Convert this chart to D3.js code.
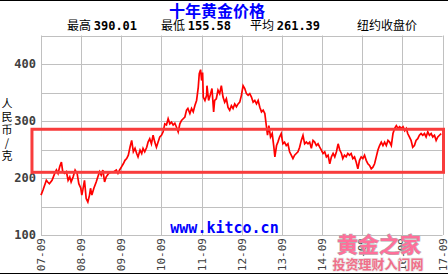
<!DOCTYPE html>
<html>
<head>
<meta charset="utf-8">
<script src="https://cdn.jsdelivr.net/npm/d3@7"></script>
<style>
  body { margin: 0; background: #fff; }
  svg { display: block; }
</style>
</head>
<body>
<div id="chart"></div>
<script>
// months since 2007-09, gold price (CNY per gram)
const months = [
  0, 0.6, 1.6, 2.0, 2.5, 3.3, 4.1, 4.6, 5.1, 5.6, 6.1, 6.5, 7.1, 7.6, 8.1, 8.6, 9.0, 9.6, 10.2, 10.8,
  11.3, 11.9, 12.2, 12.5, 13.0, 13.5, 14.0, 14.5, 14.8, 15.2, 15.8, 16.5, 17.0, 17.5, 18.0, 18.5, 19.0, 19.5, 20.2, 21.0,
  21.8, 22.5, 23.0, 23.5, 24.1, 24.6, 25.1, 25.6, 26.1, 26.6, 27.1, 27.6, 28.1, 28.6, 29.0, 29.6, 30.1, 30.5, 31.0, 31.6,
  32.0, 32.5, 33.0, 33.5, 34.0, 34.5, 35.0, 35.5, 36.0, 36.5, 37.0, 37.5, 38.0, 38.5, 39.0, 39.5, 40.0, 40.5, 41.0, 41.5,
  42.0, 42.5, 43.0, 43.5, 43.9, 44.5, 45.0, 45.5, 46.0, 46.5, 47.0, 47.3, 47.7, 48.0, 48.3, 48.5, 49.0, 49.5, 49.6, 50.1,
  50.7, 51.1, 51.6, 51.9, 52.4, 52.9, 53.4, 53.9, 54.4, 54.9, 55.4, 55.9, 56.4, 56.9, 57.4, 57.9, 58.4, 58.9, 59.4, 59.9,
  60.4, 60.9, 61.4, 61.9, 62.4, 62.9, 63.4, 63.9, 64.4, 64.9, 65.4, 65.9, 66.4, 66.9, 67.4, 67.7, 68.1, 68.6, 69.1, 69.6,
  69.9, 70.4, 70.8, 71.3, 71.8, 72.3, 72.8, 73.3, 73.8, 74.3, 74.8, 75.3, 75.8, 76.3, 76.8, 77.3, 77.8, 78.3, 78.8, 79.3,
  79.8, 80.3, 80.8, 81.3, 81.8, 82.3, 82.8, 83.3, 83.8, 84.3, 84.8, 85.3, 85.8, 86.3, 86.8, 87.3, 87.8, 88.3, 88.8, 89.3,
  89.8, 90.2, 90.7, 91.2, 91.7, 92.2, 92.7, 93.2, 93.7, 94.2, 94.7, 95.2, 95.7, 96.2, 96.7, 97.2, 97.7, 98.2, 98.7, 99.2,
  99.7, 100.2, 100.7, 101.2, 101.7, 102.2, 102.7, 103.2, 103.7, 104.2, 104.7, 105.2, 105.7, 106.2, 106.7, 107.2, 107.7, 108.2, 108.7, 109.2,
  109.6, 110.1, 110.6, 111.1, 111.6, 112.1, 112.6, 113.1, 113.6, 114.1, 114.6, 115.1, 115.6, 116.1, 116.6, 117.1, 117.6, 118.1, 118.6, 119.1,
  119.6
]
const prices = [
  170, 179, 196, 193, 190, 196, 208, 214, 208, 220, 228, 211, 208, 211, 196, 202, 193, 202, 214, 208,
  190, 182, 170, 179, 196, 164, 158, 170, 182, 170, 182, 193, 202, 211, 205, 214, 193, 202, 208, 211,
  211, 214, 208, 214, 220, 225, 231, 234, 240, 254, 266, 246, 252, 243, 237, 249, 243, 252, 246, 254,
  263, 269, 260, 275, 263, 254, 263, 272, 275, 281, 295, 293, 304, 295, 298, 293, 296, 289, 281, 295,
  301, 304, 307, 319, 322, 313, 322, 316, 327, 336, 359, 383, 390, 371, 385, 342, 336, 345, 362, 336,
  348, 357, 316, 336, 339, 354, 348, 362, 342, 333, 339, 324, 319, 327, 322, 330, 325, 330, 333, 345,
  362, 357, 348, 345, 348, 342, 333, 336, 330, 336, 324, 316, 319, 313, 289, 275, 292, 272, 278, 254,
  237, 257, 263, 272, 278, 260, 263, 257, 260, 246, 240, 234, 240, 243, 246, 254, 266, 275, 260, 263,
  260, 263, 252, 266, 263, 257, 260, 254, 249, 243, 246, 237, 240, 225, 237, 243, 237, 246, 260, 249,
  243, 234, 240, 237, 243, 240, 243, 234, 237, 228, 216, 231, 237, 234, 240, 231, 225, 222, 216, 219,
  225, 237, 249, 257, 263, 257, 263, 257, 266, 263, 257, 278, 287, 292, 287, 290, 287, 290, 283, 287,
  278, 272, 266, 254, 257, 266, 269, 275, 278, 275, 278, 272, 281, 275, 278, 272, 275, 266, 272, 275,
  278
]
const xTickMonths = [0, 12, 24, 36, 48, 60, 72, 84, 96, 108, 120]
const xTickLabels = ["07-09", "08-09", "09-09", "10-09", "11-09", "12-09", "13-09", "14-09", "15-09", "16-09", "17-09"]
const yTicks = [100, 200, 300, 400]
const yGrid = [100, 150, 200, 250, 300, 350, 400, 450]
const stats = [
  { label: "最高", value: "390.01" },
  { label: "最低", value: "155.58" },
  { label: "平均", value: "261.39" }
]
// highlighted price band (annotation box)
const bandPrices = [210, 285.5]
const bandMonths = [-2.7, 120.3]

const W = 448, H = 275
const MARGIN = { TOP: 35.5, BOTTOM: 40, LEFT: 41, RIGHT: 5 }
const MONO = "'DejaVu Sans Mono', 'Liberation Mono', monospace"
const CJK = "'Noto Sans CJK SC', sans-serif"

const svg = d3.select("#chart").append("svg")
  .attr("width", W)
  .attr("height", H)

const x = d3.scaleLinear()
  .domain([0, 120])
  .range([MARGIN.LEFT, W - MARGIN.RIGHT - 0.5])

const y = d3.scaleLinear()
  .domain([100, 450])
  .range([H - MARGIN.BOTTOM, MARGIN.TOP])

// frame lines top and bottom
svg.append("line").attr("x1", 0).attr("x2", W).attr("y1", 0.5).attr("y2", 0.5)
  .attr("stroke", "#000")
svg.append("line").attr("x1", 0).attr("x2", W).attr("y1", 273.5).attr("y2", 273.5)
  .attr("stroke", "#000")

// grid
const grid = svg.append("g").attr("stroke", "#c0c0c0").attr("stroke-width", 1)
grid.selectAll(".h").data(yGrid).enter().append("line")
  .attr("x1", x(0)).attr("x2", x(120))
  .attr("y1", d => Math.round(y(d)) + 0.5).attr("y2", d => Math.round(y(d)) + 0.5)
grid.selectAll(".v").data(xTickMonths).enter().append("line")
  .attr("x1", d => Math.round(x(d)) + 0.5).attr("x2", d => Math.round(x(d)) + 0.5)
  .attr("y1", y(450)).attr("y2", y(100))

// y labels
svg.append("g").selectAll("text").data(yTicks).enter().append("text")
  .attr("x", 36)
  .attr("y", d => y(d))
  .attr("dy", "0.36em")
  .attr("text-anchor", "end")
  .attr("font-family", MONO)
  .attr("font-weight", "bold")
  .attr("font-size", "12px")
  .attr("fill", "#404040")
  .text(d => d)

// x labels, rotated
svg.append("g").selectAll("text").data(xTickMonths).enter().append("text")
  .attr("transform", d => `translate(${x(d) + 4}, 238) rotate(-90)`)
  .attr("text-anchor", "end")
  .attr("font-family", MONO)
  .attr("font-size", "11px")
  .attr("fill", "#404040")
  .text((d, i) => xTickLabels[i])

// y axis unit, stacked vertically
svg.append("g").selectAll("text").data(["人", "民", "币", "/", "克"]).enter().append("text")
  .attr("x", 7)
  .attr("y", (d, i) => 108 + i * 13)
  .attr("text-anchor", "middle")
  .attr("font-family", CJK)
  .attr("font-size", "11px")
  .attr("fill", "#000")
  .text(d => d)

// title
svg.append("text")
  .attr("x", 217)
  .attr("y", 17)
  .attr("text-anchor", "middle")
  .attr("font-family", CJK)
  .attr("font-weight", "bold")
  .attr("font-size", "16px")
  .attr("fill", "#0000ff")
  .text("十年黄金价格")

// stats line
const statX = [67, 161, 250]
stats.forEach((s, i) => {
  const t = svg.append("text")
    .attr("x", statX[i])
    .attr("y", 30)
    .attr("font-size", "12px")
    .attr("fill", "#000")
  t.append("tspan").attr("font-family", CJK).text(s.label + " ")
  t.append("tspan").attr("font-family", MONO).attr("font-weight", "bold").text(s.value)
})
svg.append("text")
  .attr("x", 357)
  .attr("y", 30)
  .attr("font-family", CJK)
  .attr("font-size", "12px")
  .attr("fill", "#000")
  .text("纽约收盘价")

// watermark site
svg.append("text")
  .attr("x", 224.5)
  .attr("y", 232.5)
  .attr("text-anchor", "middle")
  .attr("font-family", MONO)
  .attr("font-weight", "bold")
  .attr("font-size", "15px")
  .attr("fill", "#0000ff")
  .text("www.kitco.cn")

// price line
const line = d3.line()
  .x((d, i) => x(months[i]))
  .y(d => y(d))

svg.append("path")
  .datum(prices)
  .attr("d", line)
  .attr("fill", "none")
  .attr("stroke", "#ff0000")
  .attr("stroke-width", 1.7)
  .attr("stroke-linejoin", "miter")

// highlight band
svg.append("rect")
  .attr("x", x(bandMonths[0]))
  .attr("y", y(bandPrices[1]))
  .attr("width", x(bandMonths[1]) - x(bandMonths[0]))
  .attr("height", y(bandPrices[0]) - y(bandPrices[1]))
  .attr("fill", "none")
  .attr("stroke", "#f83c3c")
  .attr("stroke-width", 3)

// corner watermark
svg.append("text")
  .attr("x", 379)
  .attr("y", 252)
  .attr("text-anchor", "middle")
  .attr("font-family", CJK)
  .attr("font-weight", "bold")
  .attr("font-size", "21px")
  .attr("fill", "#ff6f9a")
  .attr("stroke", "#b0b0b0")
  .attr("stroke-width", 1)
  .attr("paint-order", "stroke")
  .text("黄金之家")
svg.append("text")
  .attr("x", 378)
  .attr("y", 269)
  .attr("text-anchor", "middle")
  .attr("font-family", CJK)
  .attr("font-weight", "bold")
  .attr("font-size", "13px")
  .attr("fill", "#f0708a")
  .attr("stroke", "#e8e8e8")
  .attr("stroke-width", 1.5)
  .attr("paint-order", "stroke")
  .text("投资理财入门网")
</script>
</body>
</html>
